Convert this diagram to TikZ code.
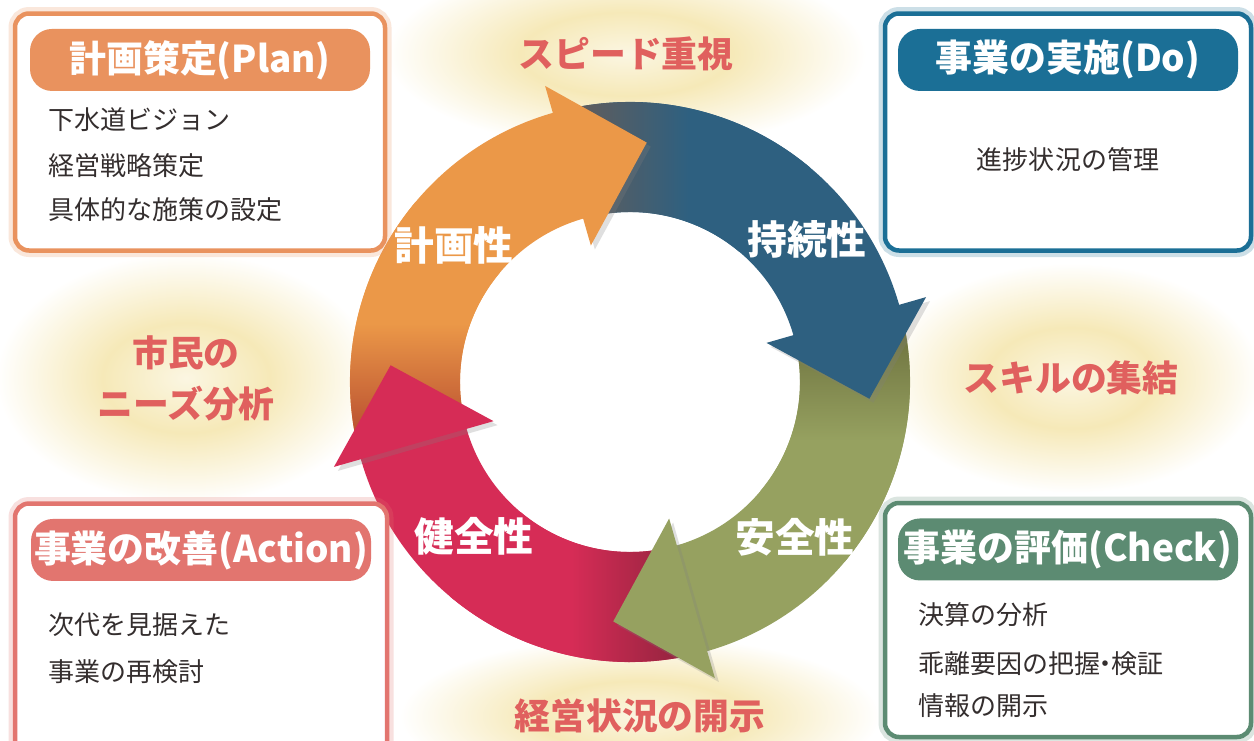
\documentclass[tikz,border=0pt]{standalone}
\usepackage{fontspec}
\setmainfont{Noto Sans CJK JP}
\usetikzlibrary{positioning, shadows}
\definecolor{cplan}{HTML}{E9925E}
\definecolor{cdo}{HTML}{1B6F96}
\definecolor{cact}{HTML}{E2756F}
\definecolor{cchk}{HTML}{5C8B72}
\definecolor{lblred}{HTML}{E0605E}
\definecolor{txtgray}{HTML}{342E2E}
\definecolor{arplan}{HTML}{EB9848}
\definecolor{ardo}{HTML}{2E6080}
\definecolor{archk}{HTML}{96A160}
\definecolor{aract}{HTML}{D62C56}
\definecolor{trplan}{HTML}{B4482E}
\definecolor{trdo}{HTML}{665C58}
\definecolor{trchk}{HTML}{6A6E3C}
\definecolor{tract}{HTML}{8C233C}
\definecolor{glowin}{HTML}{FBF6E2}
\definecolor{glowout}{HTML}{F6E9B8}
\pgfdeclareradialshading{glow}{\pgfpointorigin}{color(0bp)=(glowin); color(11bp)=(glowout); color(25bp)=(white); color(50bp)=(white)}
\tikzset{
  panel/.style={draw=#1, line width=0.45mm, fill=white, rounded corners=1.4mm,
    preaction={draw=#1, draw opacity=0.22, line width=1.3mm}},
  pill/.style={fill=#1, text=white, rounded corners=2.2mm, inner sep=0pt,
    minimum width=34mm, minimum height=6.2mm, font=\fontsize{10.5pt}{12pt}\selectfont\bfseries},
  item/.style={anchor=west, inner sep=0pt, text=txtgray, font=\fontsize{7.4pt}{9pt}\selectfont},
  theme/.style={text=lblred, align=center, inner sep=0pt, font=\fontsize{10.2pt}{14.5pt}\selectfont\bfseries},
  ringlbl/.style={text=white, inner sep=0pt, font=\fontsize{11.3pt}{13pt}\selectfont\bfseries},
  fadeplan/.style={top color=arplan, bottom color=trplan, middle color=arplan},
  fadedo/.style={left color=trdo, right color=ardo, middle color=ardo},
  fadechk/.style={top color=trchk, bottom color=archk, middle color=archk},
  fadeact/.style={left color=aract, right color=tract, middle color=aract}
}
\begin{document}
\begin{tikzpicture}[x=0.1mm, y=0.1mm]
  \fill[white] (0,0) rectangle (1254,740);
  \useasboundingbox (0,0) rectangle (1254,740);
  % soft glows behind the themes
  \shade[shading=glow] (626,686) ellipse [x radius=240, y radius=95];
  \shade[shading=glow] (186,362) ellipse [x radius=190, y radius=125];
  \shade[shading=glow] (1071,362) ellipse [x radius=190, y radius=115];
  \shade[shading=glow] (640,24) ellipse [x radius=240, y radius=80];

  % ring of arrows
  \begin{scope}[shift={(630,358)}]
    \foreach \k/\main/\fd in {0/arplan/fadeplan, 1/ardo/fadedo, 2/archk/fadechk, 3/aract/fadeact}{
      \pgfmathsetmacro\s{193-90*\k}
      \pgfmathsetmacro\e{105.5-90*\k}
      \pgfmathsetmacro\m{140-90*\k}
      \fill[\main] (\s:280) arc[start angle=\s, end angle=\e, radius=280]
        -- (\e:170) arc[start angle=\e, end angle=\s, radius=170] -- cycle;
      \shade[\fd] (\s:280) arc[start angle=\s, end angle=\m, radius=280]
        -- (\m:170) arc[start angle=\m, end angle=\s, radius=170] -- cycle;
    }
    \foreach \k/\main in {0/arplan, 1/ardo, 2/archk, 3/aract}{
      \pgfmathsetmacro\b{106-90*\k}
      \pgfmathsetmacro\t{86-90*\k}
      \fill[\main, drop shadow={opacity=0.25, shadow xshift=0.4mm, shadow yshift=-0.4mm}]
        (\b:142) -- (\t:240) -- (\b:308) -- cycle;
    }
  \end{scope}

  \node[ringlbl] (rplan) at (454,495) {計画性};
  \node[ringlbl] (rdo) at (807,501) {持続性};
  \node[ringlbl] (ract) at (474,204) {健全性};
  \node[ringlbl] (rchk) at (795,203) {安全性};

  % themes between the panels
  \node[theme] (speed) at (626,686) {スピード重視};
  \node[theme] (needs) at (186,362) {市民の\\ニーズ分析};
  \node[theme] (skill) at (1071,362) {スキルの集結};
  \node[theme] (open) at (640,24) {経営状況の開示};

  % Plan
  \node[panel=cplan, minimum width=37mm, minimum height=23.7mm] (planbox) at (200,608) {};
  \node[pill=cplan, below=1.7mm of planbox.north] (plan) {計画策定(Plan)};
  \node[item] (plan1) at (48,620) {下水道ビジョン};
  \node[item] (plan2) at (48,574) {経営戦略策定};
  \node[item] (plan3) at (48,530) {具体的な施策の設定};

  % Do
  \node[panel=cdo, minimum width=36.6mm, minimum height=23.7mm] (dobox) at (1068,608) {};
  \node[pill=cdo, below=1.7mm of dobox.north] (do) {事業の実施(Do)};
  \node[item, anchor=center] (do1) at (1068,580) {進捗状況の管理};

  % Action
  \node[panel=cact, minimum width=37.2mm, minimum height=25.7mm] (actbox) at (201,108) {};
  \node[pill=cact, below=1.7mm of actbox.north] (act) {事業の改善(Action)};
  \node[item] (act1) at (48,115) {次代を見据えた};
  \node[item] (act2) at (48,68) {事業の再検討};

  % Check
  \node[panel=cchk, minimum width=36.6mm, minimum height=23.4mm] (chkbox) at (1068,120) {};
  \node[pill=cchk, below=1.7mm of chkbox.north] (chk) {事業の評価(Check)};
  \node[item] (chk1) at (918,125) {決算の分析};
  \node[item] (chk2) at (918,76) {乖離要因の把握\kern-0.3em・\kern-0.3em 検証};
  \node[item] (chk3) at (918,34) {情報の開示};
\end{tikzpicture}
\end{document}
